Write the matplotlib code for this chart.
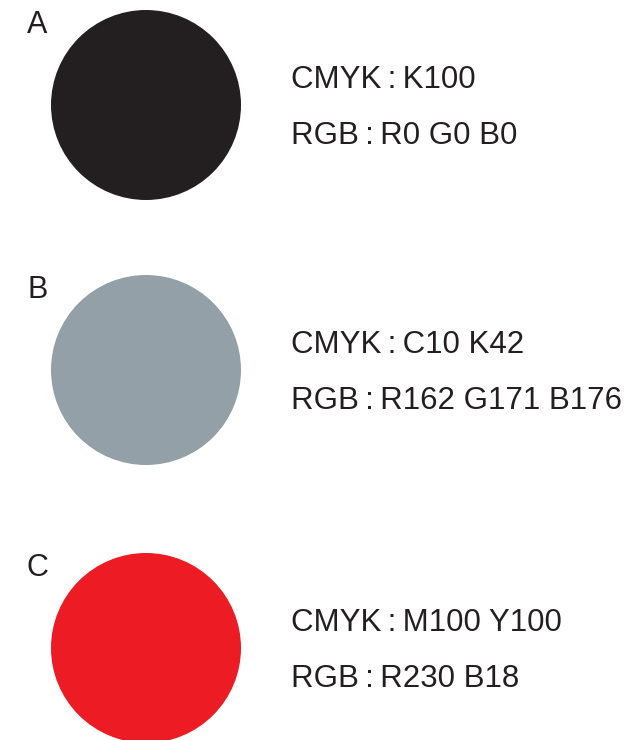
import matplotlib
matplotlib.use('Agg')
from matplotlib import pyplot as plt
from matplotlib.patches import Circle

plt.rcParams['font.family'] = ['Liberation Sans', 'Noto Sans CJK SC', 'DejaVu Sans']

# swatch data
labels = ['A', 'B', 'C']
colors = ['#231f20', '#94a0a7', '#ed1c24']
cmyk = ['K100', 'C10 K42', 'M100 Y100']
rgb = ['R0 G0 B0', 'R162 G171 B176', 'R230 B18']

W, H = 642, 740
fig = plt.figure(figsize=(W / 100, H / 100), dpi=100)
ax = fig.add_axes([0, 0, 1, 1])
ax.set_xlim(0, W)
ax.set_ylim(H, 0)
ax.set_aspect('equal')
ax.axis('off')

row_y = [105, 370, 648]
r = 95
for i in range(len(labels)):
    cy = row_y[i]
    ax.add_patch(Circle((146, cy), r, facecolor=colors[i], edgecolor='none'))
    ax.text(27, cy - 80, labels[i], fontsize=22, color='#231f20', ha='left', va='center')
    ax.text(291, cy - 25, 'CMYK\u2009:\u2009' + cmyk[i], fontsize=22.5, color='#231f20',
            ha='left', va='center')
    ax.text(291, cy + 31, 'RGB\u2009:\u2009' + rgb[i], fontsize=22.5, color='#231f20',
            ha='left', va='center')

fig.savefig('out.png', dpi=100)
